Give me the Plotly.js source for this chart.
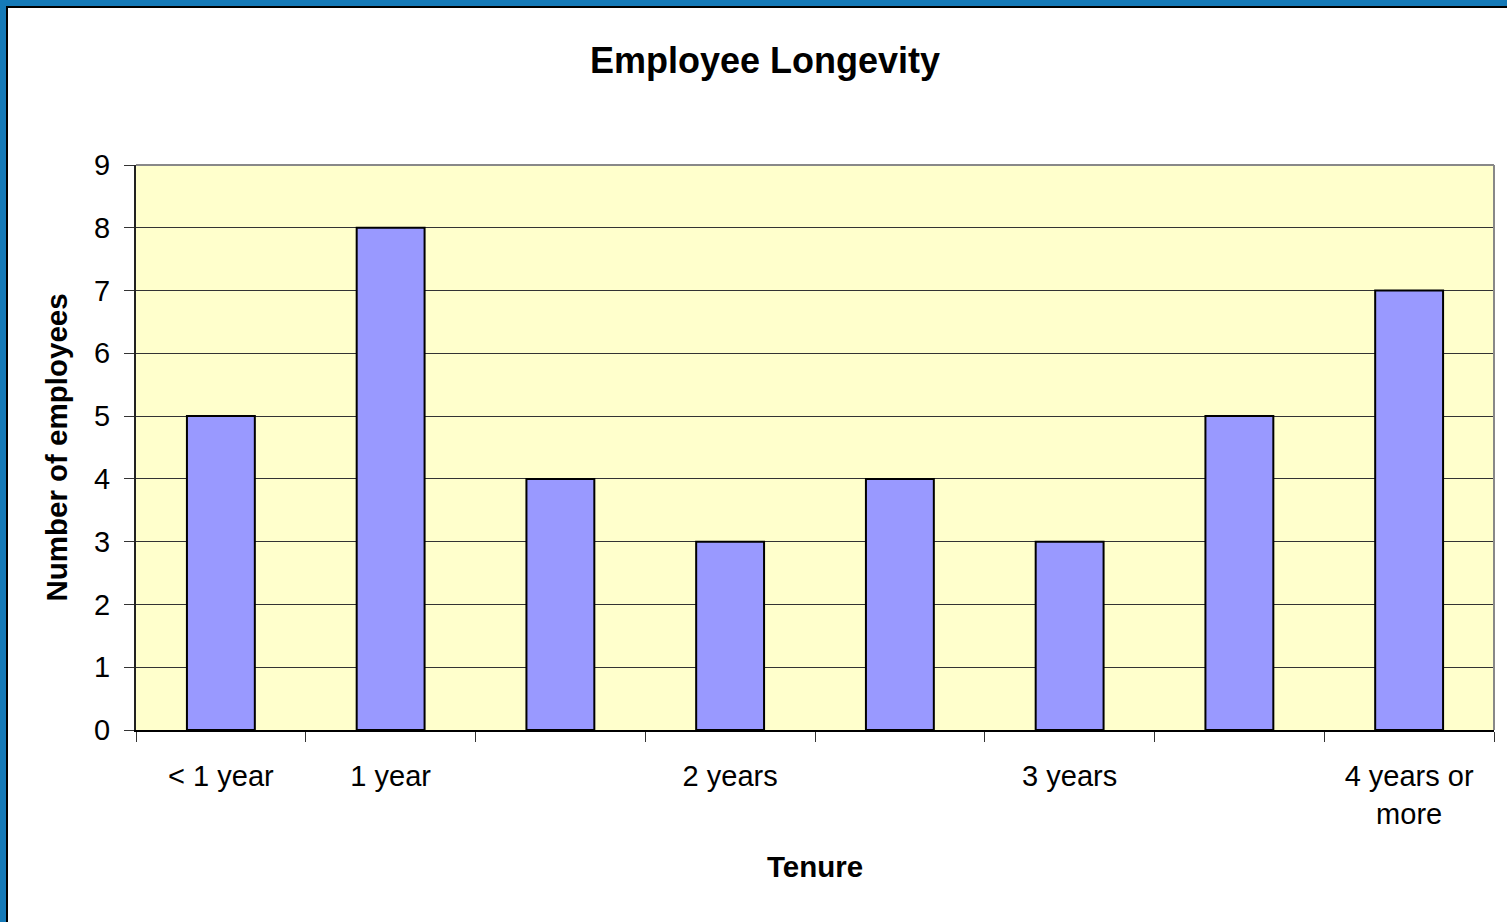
<!DOCTYPE html>
<html>
<head>
<meta charset="utf-8">
<script src="https://cdn.plot.ly/plotly-3.0.1.min.js"></script>
<style>
  html, body { margin: 0; padding: 0; background: #ffffff; }
  #chart { position: absolute; left: 0; top: 0; width: 1507px; height: 922px; }
  #frameBlue { position: absolute; left: 0; top: 0; width: 1507px; height: 922px;
    box-sizing: border-box; border-left: 6px solid #157ab8; border-top: 6px solid #157ab8; pointer-events: none; }
  #frameBlack { position: absolute; left: 6px; top: 6px; width: 1501px; height: 916px;
    box-sizing: border-box; border-left: 2px solid #000; border-top: 2px solid #000; pointer-events: none; }
</style>
</head>
<body>
<div id="chart"></div>
<div id="frameBlue"></div>
<div id="frameBlack"></div>
<script>
// Data
const categories = ["< 1 year", "1 year", "1-2 years", "2 years", "2-3 years", "3 years", "3-4 years", "4 years or more"];
const employees = [5, 8, 4, 3, 4, 3, 5, 7];
const tickPositions = [0, 1, 3, 5, 7];
const tickLabels = ["< 1 year", "1 year", "2 years", "3 years", "4 years or<br>more"];
const yTicks = [0, 1, 2, 3, 4, 5, 6, 7, 8, 9];

const FONT = "'Liberation Sans', Arial, sans-serif";

const xIdx = categories.map((c, i) => i);

const trace = {
  type: 'bar',
  x: xIdx,
  y: employees,
  text: categories,
  hoverinfo: 'text+y',
  textposition: 'none',
  width: 0.4,
  marker: { color: '#9999ff', line: { color: '#000000', width: 2 } }
};

const layout = {
  width: 1507,
  height: 922,
  margin: { l: 136, r: 13, t: 165, b: 192 },
  paper_bgcolor: '#ffffff',
  plot_bgcolor: '#ffffcc',
  showlegend: false,
  font: { family: FONT, color: '#000000', size: 29 },
  title: {
    text: '<b>Employee Longevity</b>',
    font: { family: FONT, size: 36, color: '#000000' },
    xref: 'container', x: 0.5076, xanchor: 'center',
    yref: 'container', y: 1 - 60 / 922, yanchor: 'middle'
  },
  xaxis: {
    range: [-0.5, 7.5],
    tickmode: 'array',
    tickvals: tickPositions,
    ticktext: tickLabels,
    ticks: '',
    ticklabelstandoff: 19,
    tickfont: { family: FONT, size: 29, color: '#000000' },
    showgrid: false,
    zeroline: false,
    showline: true,
    linecolor: '#000000',
    linewidth: 2,
    minor: { tick0: 0.5, dtick: 1, ticks: 'outside', ticklen: 10, tickwidth: 1, tickcolor: '#333333', showgrid: false },
    title: { text: '<b>Tenure</b>', font: { family: FONT, size: 29.5, color: '#000000' }, standoff: 28 },
    fixedrange: true
  },
  yaxis: {
    range: [0, 9],
    tickmode: 'array',
    tickvals: yTicks,
    ticks: 'outside',
    ticklen: 10,
    tickwidth: 1,
    tickcolor: '#333333',
    ticklabelstandoff: 8,
    tickfont: { family: FONT, size: 29, color: '#000000' },
    showgrid: true,
    gridcolor: '#333333',
    gridwidth: 1,
    zeroline: false,
    showline: true,
    linecolor: '#222222',
    linewidth: 2,
    title: { text: '<b>Number of employees</b>', font: { family: FONT, size: 29.5, color: '#000000' }, standoff: 18 },
    fixedrange: true
  },
  shapes: [
    { type: 'line', xref: 'paper', yref: 'paper', x0: 0, x1: 1, y0: 1, y1: 1, line: { color: '#888888', width: 2 } },
    { type: 'line', xref: 'paper', yref: 'paper', x0: 1, x1: 1, y0: 0, y1: 1, line: { color: '#888888', width: 2 } }
  ]
};

Plotly.newPlot('chart', [trace], layout, { displayModeBar: false, staticPlot: false });
</script>
</body>
</html>
